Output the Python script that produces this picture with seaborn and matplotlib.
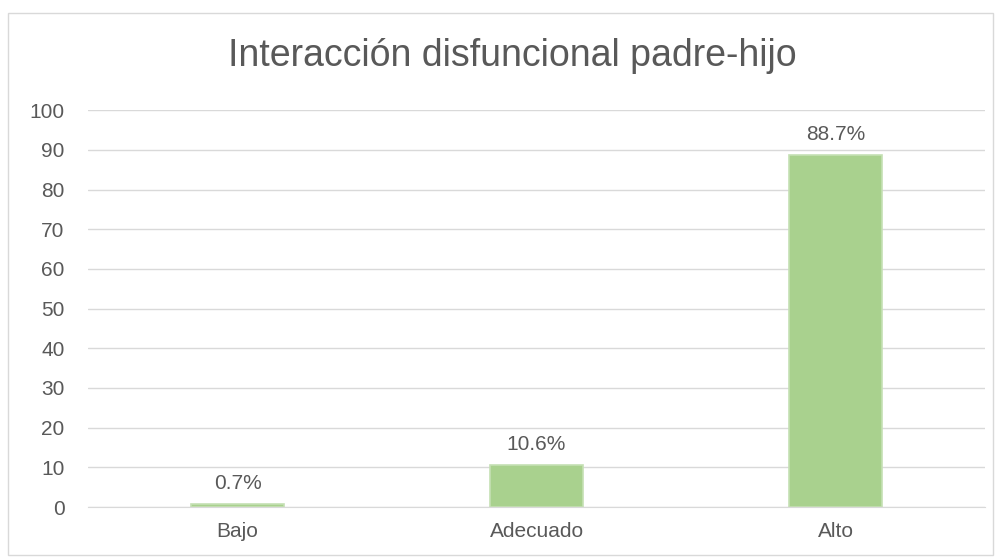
import matplotlib
matplotlib.use('Agg')
import matplotlib.pyplot as plt
import seaborn as sns
import pandas as pd
from matplotlib.patches import Rectangle

categorias = ['Bajo', 'Adecuado', 'Alto']
porcentajes = [0.7, 10.6, 88.7]
etiquetas = ['0.7%', '10.6%', '88.7%']
titulo = 'Interacción disfuncional padre-hijo'

sns.set_style('white')
plt.rcParams['font.family'] = ['Liberation Sans', 'DejaVu Sans']

df = pd.DataFrame({'cat': categorias, 'val': porcentajes})

fig = plt.figure(figsize=(10.01, 5.59), dpi=100)
ax = fig.add_axes([0.088, 0.093, 0.896, 0.710])

sns.barplot(data=df, x='cat', y='val', color='#A9D18E', width=0.31,
            edgecolor='#C5E0B4', linewidth=1.2, saturation=1, ax=ax)

ax.set_ylim(0, 100)
ax.set_yticks(range(0, 101, 10))
ax.yaxis.grid(True, color='#D9D9D9', linewidth=1)
ax.set_axisbelow(True)
for s in ['top', 'right', 'left']:
    ax.spines[s].set_visible(False)
ax.spines['bottom'].set_color('#D9D9D9')
ax.tick_params(axis='both', length=0, labelsize=15, colors='#595959')
ax.tick_params(axis='y', pad=17)
ax.tick_params(axis='x', pad=11)
ax.set_xlabel('')
ax.set_ylabel('')

for p, t in zip(ax.patches, etiquetas):
    ax.annotate(t, (p.get_x() + p.get_width() / 2, p.get_height()),
                xytext=(0, 8), textcoords='offset points', ha='center', va='bottom',
                fontsize=15, color='#595959')

fig.text(0.512, 0.9, titulo, ha='center', va='center', fontsize=27, color='#595959')

fig.patches.append(Rectangle((8 / 1001, 4 / 559), 985 / 1001, 542 / 559,
                             transform=fig.transFigure, fill=False,
                             edgecolor='#D9D9D9', linewidth=1))

fig.savefig('out.png', dpi=100)
